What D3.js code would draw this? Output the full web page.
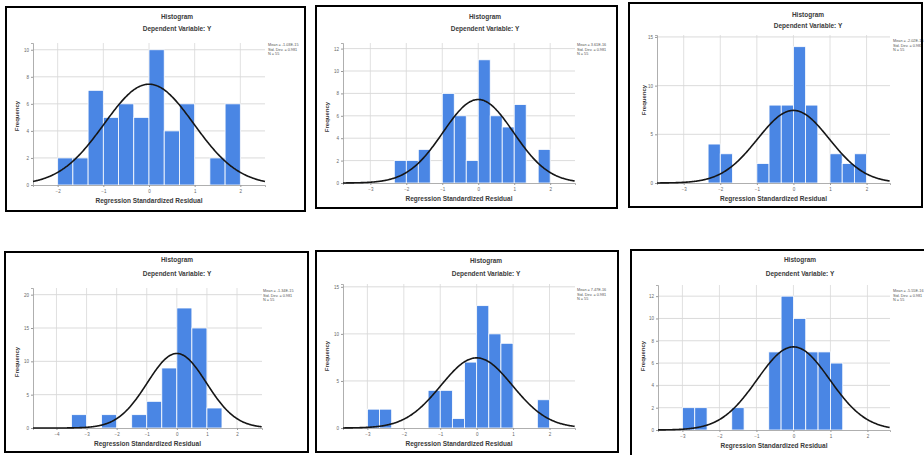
<!DOCTYPE html>
<html>
<head>
<meta charset="utf-8">
<script src="https://cdn.jsdelivr.net/npm/d3@7"></script>
<style>
  body { margin: 0; background: #fff; }
  svg { display: block; font-family: "Liberation Sans", Arial, sans-serif; }
</style>
</head>
<body>
<div id="chart"></div>
<script>
// Bin frequencies (left to right, top row then bottom row)
const counts1 = [2, 2, 7, 5, 6, 5, 10, 4, 6, 0, 2, 6];
const counts2 = [2, 2, 3, 0, 8, 6, 2, 11, 6, 5, 7, 0, 3];
const counts3 = [4, 3, 0, 0, 2, 8, 8, 14, 8, 0, 3, 2, 3];
const counts4 = [2, 0, 2, 0, 2, 4, 9, 18, 15, 3];
const counts5 = [2, 2, 0, 0, 0, 4, 4, 1, 7, 13, 10, 9, 0, 0, 3];
const counts6 = [2, 2, 0, 0, 2, 0, 0, 7, 12, 10, 7, 7, 6];

// first bin edge and bin width of each histogram
const binStarts = [-2, -2.3333, -2.3333, -3.5, -3, -3];
const binWidths = [0.3333, 0.3333, 0.3333, 0.5, 0.3333, 0.3333];

// tick labels
const xTicks = [
  [-2, -1, 0, 1, 2],
  [-3, -2, -1, 0, 1, 2],
  [-3, -2, -1, 0, 1, 2],
  [-4, -3, -2, -1, 0, 1, 2],
  [-3, -2, -1, 0, 1, 2],
  [-3, -2, -1, 0, 1, 2]
];
const yTicks = [
  [0, 2, 4, 6, 8, 10],
  [0, 2, 4, 6, 8, 10, 12],
  [0, 5, 10, 15],
  [0, 5, 10, 15, 20],
  [0, 5, 10, 15],
  [0, 2, 4, 6, 8, 10, 12]
];

// legend statistics
const means = ["-1.03E-15", "3.61E-16", "-2.02E-15", "-1.34E-15", "7.47E-16", "-5.55E-16"];
const stdDevs = [0.981, 0.981, 0.981, 0.981, 0.981, 0.981];
const ns = [55, 55, 55, 55, 55, 55];

const titleText = "Histogram";
const subtitleText = "Dependent Variable: Y";
const xLabelText = "Regression Standardized Residual";
const yLabelText = "Frequency";

const allCounts = [counts1, counts2, counts3, counts4, counts5, counts6];

// layout of each panel: frame box, plot box, axis domains
const panels = [
  { frame: [6, 7, 305, 211], px: [33, 265], py: [185, 43], xd: [-2.54, 2.54], yd: [0, 10.5], title: [177, 17, 29], legend: [268, 46], ylab: [17, 116] },
  { frame: [316, 6, 617, 208], px: [343, 575], py: [183, 43], xd: [-3.76, 2.69], yd: [0, 12.5], title: [485, 17, 29], legend: [577, 46], ylab: [327, 117] },
  { frame: [629, 3, 922, 207], px: [657, 890], py: [183, 35], xd: [-3.73, 2.64], yd: [0, 15.2], title: [808, 15, 26], legend: [893, 42], ylab: [644, 100] },
  { frame: [5, 252, 308, 452], px: [33, 262], py: [428, 288], xd: [-4.78, 2.83], yd: [0, 21], title: [177, 260, 274], legend: [263, 292], ylab: [17, 362] },
  { frame: [316, 251, 618, 452], px: [343, 575], py: [428, 284], xd: [-3.67, 2.7], yd: [0, 15.3], title: [486, 261, 274], legend: [577, 291], ylab: [327, 356] },
  { frame: [631, 250, 926, 458], px: [658, 890], py: [430, 285], xd: [-3.66, 2.61], yd: [0, 13], title: [800, 260, 274], legend: [893, 292], ylab: [643, 356] }
];

const svg = d3.select("#chart")
  .append("svg")
  .attr("width", 924)
  .attr("height", 455);

const textColor = "#3a3a3a";

panels.forEach((p, i) => {
  const counts = allCounts[i];
  const x = d3.scaleLinear().domain(p.xd).range(p.px);
  const y = d3.scaleLinear().domain(p.yd).range(p.py);
  const g = svg.append("g");

  // grid lines
  g.selectAll(".hgrid")
    .data(yTicks[i].slice(1))
    .enter()
    .append("line")
    .attr("x1", p.px[0]).attr("x2", p.px[1])
    .attr("y1", (d) => y(d)).attr("y2", (d) => y(d))
    .attr("stroke", "#d2d2d2")
    .attr("stroke-width", 0.8);

  g.selectAll(".vgrid")
    .data(xTicks[i])
    .enter()
    .append("line")
    .attr("x1", (d) => x(d)).attr("x2", (d) => x(d))
    .attr("y1", p.py[1]).attr("y2", p.py[0])
    .attr("stroke", "#d8d8d8")
    .attr("stroke-width", 0.8);

  // bars
  const bins = counts.map((c, k) => ({
    x0: binStarts[i] + k * binWidths[i],
    x1: binStarts[i] + (k + 1) * binWidths[i],
    c: c
  })).filter((b) => b.c > 0);

  g.selectAll(".bar")
    .data(bins)
    .enter()
    .append("rect")
    .attr("x", (d) => x(d.x0))
    .attr("width", (d) => x(d.x1) - x(d.x0))
    .attr("y", (d) => y(d.c))
    .attr("height", (d) => y(0) - y(d.c))
    .attr("fill", "#4a86e4")
    .attr("stroke", "#ffffff")
    .attr("stroke-width", 0.8);

  // axes
  const xAxis = g.append("g")
    .attr("transform", `translate(0,${p.py[0]})`)
    .call(d3.axisBottom(x).tickValues(xTicks[i]).tickSize(2).tickPadding(3).tickFormat(d3.format("d")));
  const yAxis = g.append("g")
    .attr("transform", `translate(${p.px[0]},0)`)
    .call(d3.axisLeft(y).tickValues(yTicks[i]).tickSize(2).tickPadding(2).tickFormat(d3.format("d")));
  [xAxis, yAxis].forEach((a) => {
    a.select(".domain").attr("stroke", "#9a9a9a").attr("stroke-width", 0.8);
    a.selectAll(".tick line").attr("stroke", "#9a9a9a");
    a.selectAll("text").attr("fill", "#666").style("font-size", "4.5px");
  });

  // normal curve from the legend statistics
  const sd = stdDevs[i];
  const scale = ns[i] * binWidths[i];
  const curve = d3.range(p.xd[0], p.xd[1] + 0.001, 0.02).map((v) => ({
    v: v,
    f: scale * Math.exp(-0.5 * (v / sd) * (v / sd)) / (sd * Math.sqrt(2 * Math.PI))
  }));
  g.append("path")
    .datum(curve)
    .attr("fill", "none")
    .attr("stroke", "#161616")
    .attr("stroke-width", 1.6)
    .attr("d", d3.line().x((d) => x(d.v)).y((d) => y(d.f)).curve(d3.curveBasis));

  // titles
  g.append("text")
    .attr("x", p.title[0]).attr("y", p.title[1])
    .attr("text-anchor", "middle").attr("dominant-baseline", "middle")
    .attr("fill", textColor)
    .style("font-size", "6.5px").style("font-weight", "bold")
    .text(titleText);
  g.append("text")
    .attr("x", p.title[0]).attr("y", p.title[2])
    .attr("text-anchor", "middle").attr("dominant-baseline", "middle")
    .attr("fill", textColor)
    .style("font-size", "6.5px").style("font-weight", "bold")
    .text(subtitleText);

  // axis labels
  g.append("text")
    .attr("x", (p.px[0] + p.px[1]) / 2)
    .attr("y", p.py[0] + 16)
    .attr("text-anchor", "middle").attr("dominant-baseline", "middle")
    .attr("fill", textColor)
    .style("font-size", "6.5px").style("font-weight", "bold")
    .text(xLabelText);
  g.append("text")
    .attr("transform", `translate(${p.ylab[0]},${p.ylab[1]}) rotate(-90)`)
    .attr("text-anchor", "middle").attr("dominant-baseline", "middle")
    .attr("fill", textColor)
    .style("font-size", "6px").style("font-weight", "bold")
    .text(yLabelText);

  // legend
  const legendLines = [`Mean = ${means[i]}`, `Std. Dev. = ${stdDevs[i]}`, `N = ${ns[i]}`];
  g.selectAll(".legend")
    .data(legendLines)
    .enter()
    .append("text")
    .attr("x", p.legend[0])
    .attr("y", (d, k) => p.legend[1] + k * 4.5)
    .attr("fill", "#555")
    .style("font-size", "3.8px")
    .text((d) => d);

  // frame
  svg.append("rect")
    .attr("x", p.frame[0]).attr("y", p.frame[1])
    .attr("width", p.frame[2] - p.frame[0])
    .attr("height", p.frame[3] - p.frame[1])
    .attr("fill", "none")
    .attr("stroke", "#000")
    .attr("stroke-width", 2);
});
</script>
</body>
</html>
